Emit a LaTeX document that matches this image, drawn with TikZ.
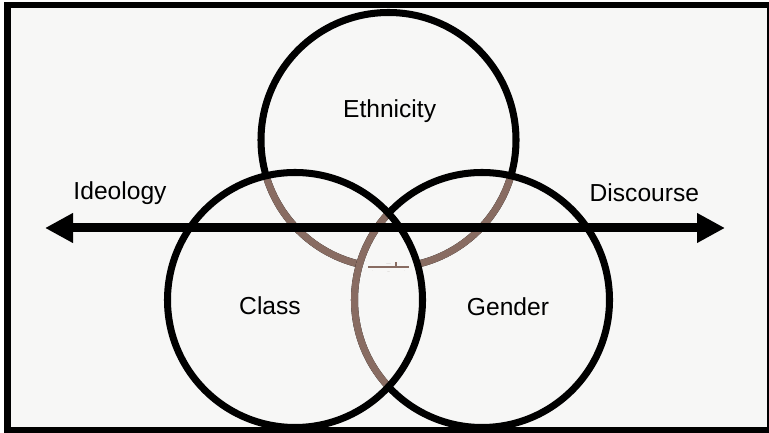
\documentclass[tikz,border=0pt]{standalone}
\usepackage{fontspec}
\setmainfont{Liberation Sans}
\usepackage{xcolor}
\usetikzlibrary{arrows.meta}

\definecolor{venngray}{RGB}{136,108,98}
\definecolor{paper}{RGB}{247,247,246}
\newcommand{\vennr}{3.1875}

\begin{document}
\begin{tikzpicture}[
    ring/.style={line width=5pt,black},
    inner ring/.style={line width=5pt,venngray},
    venntext/.style={font=\fontsize{17.5}{20}\selectfont,anchor=base}
]
    \useasboundingbox (0,0) rectangle (19.225,10.825);

    % Frame
    \filldraw[fill=paper,line width=4.8pt] (0.19,0.075) rectangle (19.26,10.7);

    % Circle centres
    \coordinate (ethnicity) at (9.7125,7.325);
    \coordinate (class) at (7.375,3.325);
    \coordinate (gender) at (12.05,3.325);

    % Ethnicity circle (grey where it lies inside the other two)
    \draw[ring] (ethnicity) circle (\vennr);
    \begin{scope}
        \clip (class) circle (\vennr);
        \draw[inner ring] (ethnicity) circle (\vennr);
    \end{scope}
    \begin{scope}
        \clip (gender) circle (\vennr);
        \draw[inner ring] (ethnicity) circle (\vennr);
    \end{scope}
    % no arc where all three overlap
    \begin{scope}
        \clip (class) circle (\vennr);
        \clip (gender) circle (\vennr);
        \draw[line width=6pt,paper] (ethnicity) circle (\vennr);
    \end{scope}

    % Gender circle (grey inside Class)
    \draw[ring] (gender) circle (\vennr);
    \begin{scope}
        \clip (class) circle (\vennr);
        \draw[inner ring] (gender) circle (\vennr);
    \end{scope}

    % Class circle on top
    \draw[ring] (class) circle (\vennr);

    % small mark in the middle
    \draw[venngray,line width=1.3pt] (9.2,4.15) -- (10.225,4.15);
    \draw[venngray,line width=0.8pt] (9.9,4.15) -- (9.9,4.28);

    % Axis
    \coordinate (left end) at (1.125,5.125);
    \coordinate (right end) at (18.125,5.125);
    \draw[{Triangle[length=0.7cm,width=0.7cm]}-{Triangle[length=0.7cm,width=0.7cm]},line width=6.4pt]
        (left end) -- (right end);

    % Labels
    \node[venntext] (ethnicity label) at (9.74,7.875) {Ethnicity};
    \node[venntext] (class label) at (6.75,2.95) {Class};
    \node[venntext] (gender label) at (12.7,2.925) {Gender};
    \node[venntext] (ideology label) at (3.0,5.825) {Ideology};
    \node[venntext] (discourse label) at (16.11,5.775) {Discourse};
\end{tikzpicture}
\end{document}
